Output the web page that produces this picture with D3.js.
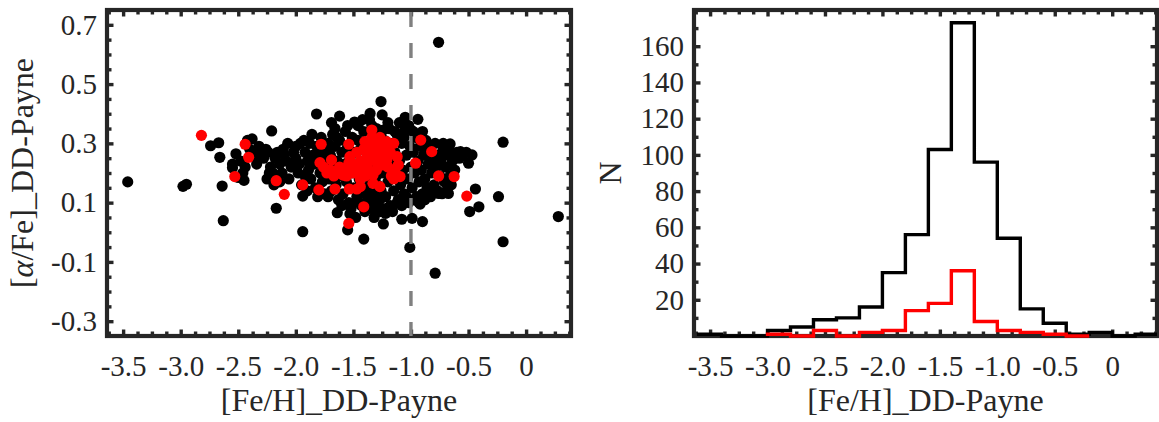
<!DOCTYPE html>
<html><head><meta charset="utf-8">
<script src="https://cdn.jsdelivr.net/npm/d3@7"></script>
<style>body{margin:0;background:#fff;} svg{display:block;} text{font-family:"Liberation Serif","DejaVu Serif",serif !important;}</style>
</head><body>
<svg id="chart" width="1159" height="422"></svg>
<script>
// ---------------- data ----------------
const xTickValues = [-3.5, -3.0, -2.5, -2.0, -1.5, -1.0, -0.5, 0];
const xTickLabels = ["-3.5", "-3.0", "-2.5", "-2.0", "-1.5", "-1.0", "-0.5", "0"];
const alphaTickValues = [0.7, 0.5, 0.3, 0.1, -0.1, -0.3];
const alphaTickLabels = ["0.7", "0.5", "0.3", "0.1", "-0.1", "-0.3"];
const nTickValues = [20, 40, 60, 80, 100, 120, 140, 160];
const nTickLabels = ["20", "40", "60", "80", "100", "120", "140", "160"];
const metalCut = -1.0;

// scatter: [Fe/H], [alpha/Fe]  (all stars, black)
const blackPoints = [
 [-3.46,0.17],[-2.98,0.155],[-2.95,0.162],[-2.74,0.292],[-2.67,0.302],[-2.66,0.253],[-2.64,0.156],[-2.63,0.039],
 [-2.55,0.218],[-2.21,0.342],[-2.17,0.081],[-1.94,0.002],[-1.94,0.122],[-1.82,0.399],[-1.69,0.37],[-1.62,0.392],
 [-1.64,0.066],[-1.65,0.322],[-1.49,0.372],[-1.53,0.062],[-1.55,0.008],[-1.41,-0.023],[-1.355,0.401],[-1.25,0.396],
 [-1.26,0.441],[-1.36,0.379],[-1.24,0.345],[-1.29,0.07],[-1.22,0.064],[-1.24,0.028],[-1.08,0.044],[-0.99,0.047],
 [-1.01,-0.051],[-0.90,0.036],[-0.92,0.095],[-1.05,0.388],[-0.94,0.381],[-1.0,0.345],[-0.76,0.641],[-0.79,-0.138],
 [-0.66,0.298],[-0.67,0.28],[-0.57,0.272],[-0.47,0.261],[-0.50,0.233],[-0.44,0.146],[-0.41,0.086],[-0.49,0.07],
 [-0.675,0.131],[-0.76,0.131],[-0.24,0.12],[-0.2,0.304],[-0.2,-0.032],[0.28,0.053],
 [-2.52,0.265],[-2.48,0.24],[-2.46,0.2],[-2.5,0.185],[-2.42,0.31],[-2.38,0.315],[-2.40,0.28],[-2.36,0.26],
 [-2.44,0.22],[-2.34,0.23],[-2.30,0.27],[-2.32,0.29],[-2.45,0.175],[-2.55,0.23],
 [-2.28,0.25],[-2.26,0.28],[-2.24,0.27],[-2.22,0.22],[-2.2,0.2],[-2.18,0.25],[-2.16,0.27],[-2.14,0.23],
 [-2.12,0.2],[-2.1,0.26],[-2.08,0.24],[-2.06,0.18],[-2.04,0.22],[-2.02,0.27],[-2.0,0.25],[-1.98,0.2],
 [-1.96,0.3],[-1.95,0.16],[-2.25,0.18],[-2.19,0.16],[-2.11,0.28],[-2.07,0.3],[-2.0,0.29],[-1.97,0.23],
 [-2.23,0.2],[-2.14,0.17],
 [-1.93,0.31],[-1.92,0.27],[-1.9,0.24],[-1.89,0.21],[-1.88,0.3],[-1.87,0.18],[-1.85,0.26],[-1.84,0.23],
 [-1.83,0.15],[-1.82,0.29],[-1.8,0.27],[-1.79,0.2],[-1.78,0.32],[-1.77,0.17],[-1.76,0.25],[-1.75,0.13],
 [-1.9,0.14],[-1.86,0.33],[-1.92,0.19],[-1.81,0.12],
 [-1.74,0.28],[-1.73,0.22],[-1.72,0.3],[-1.71,0.18],[-1.7,0.26],[-1.69,0.14],[-1.68,0.33],[-1.67,0.21],
 [-1.66,0.29],[-1.65,0.16],[-1.64,0.24],[-1.63,0.11],[-1.62,0.31],[-1.61,0.19],[-1.6,0.27],[-1.59,0.13],
 [-1.58,0.23],[-1.57,0.34],[-1.56,0.17],[-1.55,0.29],[-1.54,0.1],[-1.53,0.25],[-1.52,0.2],[-1.51,0.32],
 [-1.5,0.15],[-1.72,0.12],[-1.66,0.35],[-1.6,0.09],[-1.55,0.36],[-1.52,0.08],
 [-1.49,0.27],[-1.48,0.22],[-1.47,0.12],[-1.46,0.31],[-1.45,0.18],[-1.44,0.28],[-1.43,0.09],[-1.42,0.24],
 [-1.41,0.34],[-1.4,0.15],[-1.39,0.2],[-1.38,0.3],[-1.37,0.11],[-1.36,0.25],[-1.35,0.17],[-1.34,0.36],
 [-1.33,0.22],[-1.32,0.13],[-1.31,0.29],[-1.3,0.19],[-1.29,0.09],[-1.28,0.33],[-1.27,0.24],[-1.26,0.14],
 [-1.25,0.28],[-1.48,0.05],[-1.44,0.13],[-1.4,0.07],[-1.36,0.08],[-1.33,0.1],[-1.3,0.35],[-1.27,0.11],
 [-1.46,0.36],[-1.42,0.38],[-1.38,0.14],[-1.32,0.05],[-1.29,0.16],[-1.35,0.12],[-1.45,0.1],[-1.26,0.07],
 [-1.24,0.2],[-1.23,0.31],[-1.22,0.12],[-1.21,0.26],[-1.2,0.17],[-1.19,0.35],[-1.18,0.09],[-1.17,0.23],
 [-1.16,0.3],[-1.15,0.14],[-1.14,0.27],[-1.13,0.19],[-1.12,0.33],[-1.11,0.11],[-1.1,0.24],[-1.09,0.16],
 [-1.08,0.3],[-1.07,0.21],[-1.06,0.13],[-1.05,0.35],[-1.04,0.26],[-1.03,0.18],[-1.02,0.1],[-1.01,0.29],
 [-1.0,0.22],[-1.22,0.08],[-1.16,0.07],[-1.12,0.1],[-1.08,0.09],[-1.04,0.12],[-1.2,0.37],[-1.14,0.34],
 [-1.1,0.37],[-1.06,0.32],[-1.02,0.36],
 [-0.99,0.15],[-0.98,0.27],[-0.97,0.2],[-0.96,0.32],[-0.95,0.12],[-0.94,0.24],[-0.93,0.17],[-0.92,0.29],
 [-0.91,0.21],[-0.9,0.13],[-0.89,0.26],[-0.88,0.18],[-0.87,0.31],[-0.86,0.15],[-0.85,0.23],[-0.84,0.28],
 [-0.83,0.12],[-0.82,0.2],[-0.81,0.25],[-0.8,0.16],[-0.79,0.3],[-0.78,0.22],[-0.77,0.14],[-0.76,0.26],
 [-0.75,0.19],[-0.97,0.11],[-0.93,0.1],[-0.88,0.11],[-0.85,0.13],[-0.98,0.34],[-0.9,0.34],
 [-0.74,0.24],[-0.72,0.28],[-0.71,0.17],[-0.7,0.22],[-0.68,0.26],[-0.66,0.19],[-0.64,0.24],[-0.62,0.21],
 [-0.6,0.27],[-0.58,0.25],[-0.55,0.26],[-0.52,0.27],[-0.73,0.13],[-0.69,0.14],[-0.65,0.16],[-0.72,0.3]
];

// scatter: selected subsample (red)
const redPoints = [
 [-2.82,0.327],[-2.44,0.297],[-2.41,0.253],[-2.53,0.188],[-2.17,0.174],[-2.10,0.128],[-1.94,0.16],[-1.80,0.143],
 [-1.78,0.297],[-1.66,0.146],[-1.69,0.244],[-1.54,0.297],[-1.535,0.146],[-1.47,0.146],[-1.44,0.154],[-1.41,0.086],
 [-1.54,0.03],[-1.34,0.345],[-1.33,0.165],[-1.27,0.154],[-1.21,0.306],[-1.11,0.227],[-1.095,0.188],[-0.96,0.233],
 [-0.915,0.311],[-0.82,0.272],[-0.76,0.19],[-0.625,0.188],[-0.515,0.122],[-1.17,0.19],[-1.15,0.18],[-1.79,0.235],
 [-1.62,0.22],[-1.56,0.21],[-1.50,0.23],[-1.44,0.24],[-1.38,0.26],[-1.33,0.27],[-1.27,0.28],[-1.21,0.29],
 [-1.44,0.21],[-1.38,0.22],[-1.62,0.20],[-1.70,0.21],[-1.73,0.20],[-1.76,0.22],[-1.56,0.19],[-1.50,0.20],
 [-1.67,0.19],[-1.36,0.30],[-1.30,0.31],[-1.27,0.32],[-1.24,0.295],[-1.18,0.27],[-1.23,0.255],[-1.27,0.245],
 [-1.31,0.24],[-1.38,0.20],[-1.44,0.18],[-1.20,0.22],[-1.14,0.21],[-1.12,0.255],[-1.15,0.30],[-1.34,0.32],
 [-1.47,0.27],[-1.53,0.255],[-1.41,0.28],[-1.355,0.266],[-1.30,0.255],[-1.25,0.227],[-1.30,0.21],[-1.34,0.283],
 [-1.24,0.266],[-1.28,0.295],[-1.37,0.238],[-1.21,0.244],[-1.33,0.193],[-1.40,0.306],[-1.49,0.216],[-1.43,0.227],
 [-1.54,0.233],[-1.59,0.193],[-1.64,0.204],[-1.40,0.19]
];

// histogram (stairs) : bin edges and counts
const binEdgesAll = [-3.6,-3.4,-3.2,-3.0,-2.8,-2.6,-2.4,-2.2,-2.0,-1.8,-1.6,-1.4,-1.2,-1.0,-0.8,-0.6,-0.4,-0.2,0.0,0.2,0.4];
const countsAll   = [1, 0, 0, 3, 5, 9, 10, 16, 35, 56, 103, 173, 96, 54, 15, 7, 1, 2, 0, 1];
const binEdgesRed = [-3.0,-2.8,-2.6,-2.4,-2.2,-2.0,-1.8,-1.6,-1.4,-1.2,-1.0,-0.8,-0.6,-0.4,-0.2];
const countsRed   = [1, 0, 3, 0, 2, 3, 14, 18, 36, 8, 3, 2, 1, 0];

// ---------------- drawing ----------------
const svg = d3.select("#chart");
const AX = "#262626";
const TICK_FS = 29, LABEL_FS = 32;

const plotTop = 10, plotBottom = 336;
const PL = {left: 107, right: 571};
const PR = {left: 694, right: 1157};
const xDomain = [-3.64, 0.39];

function frame(g, x, y, w, h, xMajor, xMinor, xLabels, yMajor, yMinor, yLabels) {
  const mk = (axis, tx, ty, vals, size, labels, pad) => {
    const a = axis.tickValues(vals).tickSize(size).tickPadding(pad)
      .tickFormat(labels ? (d, i) => labels[i] : () => "");
    const gg = g.append("g").attr("transform", `translate(${tx},${ty})`).call(a);
    gg.attr("font-family", null);
    gg.select(".domain").remove();
    gg.selectAll(".tick line").attr("stroke", AX).attr("stroke-width", 3.4);
    gg.selectAll("text").attr("fill", AX).style("font-size", TICK_FS + "px");
    return gg;
  };
  mk(d3.axisBottom(x), 0, h, xMinor, -4.5, null, 0);
  mk(d3.axisTop(x), 0, 0, xMinor, -4.5, null, 0);
  mk(d3.axisLeft(y), 0, 0, yMinor, -4.5, null, 0);
  mk(d3.axisRight(y), w, 0, yMinor, -4.5, null, 0);
  mk(d3.axisBottom(x), 0, h, xMajor, -6.5, xLabels, 19.5);
  mk(d3.axisTop(x), 0, 0, xMajor, -6.5, null, 0);
  mk(d3.axisLeft(y), 0, 0, yMajor, -6.5, yLabels, 10);
  mk(d3.axisRight(y), w, 0, yMajor, -6.5, null, 0);
  g.append("rect").attr("x", 0).attr("y", 0).attr("width", w).attr("height", h)
    .attr("fill", "none").attr("stroke", AX).attr("stroke-width", 4.2);
}

// ---------- left: scatter ----------
{
  const w = PL.right - PL.left, h = plotBottom - plotTop;
  const g = svg.append("g").attr("transform", `translate(${PL.left},${plotTop})`);
  const x = d3.scaleLinear().domain(xDomain).range([0, w]);
  const y = d3.scaleLinear().domain([-0.35, 0.75]).range([h, 0]);
  const xMinor = d3.range(-3.625, 0.39, 0.125).filter(v => !xTickValues.some(t => Math.abs(t - v) < 1e-6));
  const yMinor = d3.range(-0.3, 0.749, 0.05).filter(v => !alphaTickValues.some(t => Math.abs(t - v) < 1e-6));
  frame(g, x, y, w, h, xTickValues, xMinor, xTickLabels, alphaTickValues, yMinor, alphaTickLabels);

  g.append("g").selectAll("circle").data(blackPoints).join("circle")
    .attr("cx", d => x(d[0])).attr("cy", d => y(d[1])).attr("r", 5.6).attr("fill", "#000");
  g.append("line").attr("x1", x(metalCut)).attr("x2", x(metalCut)).attr("y1", y(0.75)).attr("y2", y(-0.35))
    .attr("stroke", "#808080").attr("stroke-width", 3.4).attr("stroke-dasharray", "15 16").attr("stroke-dashoffset", -2);
  g.append("g").selectAll("circle").data(redPoints).join("circle")
    .attr("cx", d => x(d[0])).attr("cy", d => y(d[1])).attr("r", 5.6).attr("fill", "#ff0000");

  g.append("text").attr("x", w / 2).attr("y", 411 - plotTop)
    .attr("text-anchor", "middle").attr("fill", AX).style("font-size", LABEL_FS + "px")
    .text("[Fe/H]_DD-Payne");
  const yl = svg.append("text").attr("transform", `translate(33,${(plotTop + plotBottom) / 2}) rotate(-90)`)
    .attr("text-anchor", "middle").attr("fill", AX).style("font-size", LABEL_FS + "px");
  yl.append("tspan").text("[");
  yl.append("tspan").style("font-style", "italic").text("α");
  yl.append("tspan").text("/Fe]_DD-Payne");
}

// ---------- right: histogram ----------
{
  const w = PR.right - PR.left, h = plotBottom - plotTop;
  const g = svg.append("g").attr("transform", `translate(${PR.left},${plotTop})`);
  const x = d3.scaleLinear().domain(xDomain).range([0, w]);
  const y = d3.scaleLinear().domain([0, 180]).range([h, 0]);
  const xMinor = d3.range(-3.625, 0.39, 0.125).filter(v => !xTickValues.some(t => Math.abs(t - v) < 1e-6));
  const yMinor = d3.range(10, 180, 20);
  frame(g, x, y, w, h, xTickValues, xMinor, xTickLabels, nTickValues, yMinor, nTickLabels);

  svg.append("defs").append("clipPath").attr("id", "hclip")
    .append("rect").attr("x", 0).attr("y", -20).attr("width", w).attr("height", h + 40);

  const stairs = (edges, counts) => {
    const pts = [[edges[0], 0]];
    counts.forEach((c, i) => { pts.push([edges[i], c]); pts.push([edges[i + 1], c]); });
    pts.push([edges[edges.length - 1], 0]);
    return d3.line().x(d => x(d[0])).y(d => y(d[1]))(pts);
  };
  const hg = g.append("g").attr("clip-path", "url(#hclip)");
  hg.append("path").attr("d", stairs(binEdgesAll, countsAll)).attr("fill", "none")
    .attr("stroke", "#000").attr("stroke-width", 3.4).attr("stroke-linejoin", "miter");
  hg.append("path").attr("d", stairs(binEdgesRed, countsRed)).attr("fill", "none")
    .attr("stroke", "#ff0000").attr("stroke-width", 3.4).attr("stroke-linejoin", "miter");

  g.append("text").attr("x", w / 2).attr("y", 411 - plotTop)
    .attr("text-anchor", "middle").attr("fill", AX).style("font-size", LABEL_FS + "px")
    .text("[Fe/H]_DD-Payne");
  svg.append("text").attr("transform", `translate(621,${(plotTop + plotBottom) / 2}) rotate(-90)`)
    .attr("text-anchor", "middle").attr("fill", AX).style("font-size", LABEL_FS + "px")
    .text("N");
}
</script>
</body></html>
